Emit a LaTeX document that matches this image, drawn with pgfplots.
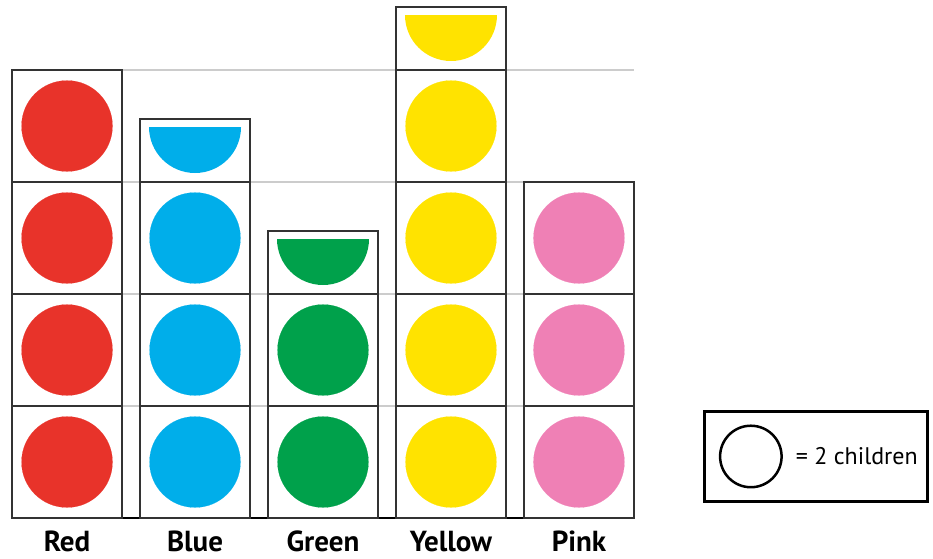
\documentclass[border=0pt]{standalone}
\usepackage{pgfplots}
\pgfplotsset{compat=1.18}
\usepackage{fontspec}
\setmainfont{PT Sans}

\definecolor{redc}{HTML}{E8332A}
\definecolor{bluec}{HTML}{00AEEA}
\definecolor{greenc}{HTML}{00A14B}
\definecolor{yellowc}{HTML}{FFE300}
\definecolor{pinkc}{HTML}{EF80B5}
\definecolor{boxc}{HTML}{333333}
\definecolor{gridc}{HTML}{CCCCCC}

% one picture cell: 110pt wide, 112pt (full) or 63pt (half) high
\pgfdeclareplotmark{cellfull}{%
  \pgfpathrectangle{\pgfqpoint{-55pt}{-56pt}}{\pgfqpoint{110pt}{112pt}}%
  \pgfusepathqstroke}
\pgfdeclareplotmark{cellhalf}{%
  \pgfpathrectangle{\pgfqpoint{-55pt}{0pt}}{\pgfqpoint{110pt}{63pt}}%
  \pgfusepathqstroke}
% half symbol (= 1 child), anchored at the bottom of its half cell
\pgfdeclareplotmark{halfc}{%
  \pgfpathmoveto{\pgfqpoint{-46pt}{55pt}}%
  \pgfpatharc{180}{360}{46pt}%
  \pgfpathclose
  \pgfusepathqfill}

\begin{document}
\begin{tikzpicture}
\begin{axis}[
    scale only axis,
    width=622pt, height=511pt,
    xmin=-0.43, xmax=4.43,
    ymin=0, ymax=4.5625,
    clip=false,
    axis lines*=left,
    y axis line style={draw=none},
    x axis line style={draw=black, line width=2pt, -},
    xtick={0,1,2,3,4},
    xticklabels={Red,Blue,Green,Yellow,Pink},
    xticklabel style={font=\bfseries\fontsize{29}{33}\selectfont, anchor=base, yshift=-33pt},
    ytick={1,2,3,4},
    yticklabels={},
    major tick length=0pt,
    ymajorgrids,
    grid style={draw=gridc, line width=2pt},
    legend style={
        at={(axis description cs:1.2926,0.1204)}, anchor=center,
        draw=black, line width=3pt,
        inner sep=0pt,
        nodes={inner sep=0pt},
        font=\fontsize{24}{28}\selectfont,
    },
]
% cell outlines
\addplot[forget plot, only marks, mark=cellfull, mark options={draw=boxc, line width=2pt}]
  coordinates {(0,0.5)(0,1.5)(0,2.5)(0,3.5)
               (1,0.5)(1,1.5)(1,2.5)
               (2,0.5)(2,1.5)
               (3,0.5)(3,1.5)(3,2.5)(3,3.5)
               (4,0.5)(4,1.5)(4,2.5)};
\addplot[forget plot, only marks, mark=cellhalf, mark options={draw=boxc, line width=2pt}]
  coordinates {(1,3)(2,2)(3,4)};
% whole symbols
\addplot[forget plot, only marks, mark=*, mark size=45.5pt, color=redc, mark options={line width=0.1pt}]
  coordinates {(0,0.5)(0,1.5)(0,2.5)(0,3.5)};
\addplot[forget plot, only marks, mark=*, mark size=45.5pt, color=bluec, mark options={line width=0.1pt}]
  coordinates {(1,0.5)(1,1.5)(1,2.5)};
\addplot[forget plot, only marks, mark=*, mark size=45.5pt, color=greenc, mark options={line width=0.1pt}]
  coordinates {(2,0.5)(2,1.5)};
\addplot[forget plot, only marks, mark=*, mark size=45.5pt, color=yellowc, mark options={line width=0.1pt}]
  coordinates {(3,0.5)(3,1.5)(3,2.5)(3,3.5)};
\addplot[forget plot, only marks, mark=*, mark size=45.5pt, color=pinkc, mark options={line width=0.1pt}]
  coordinates {(4,0.5)(4,1.5)(4,2.5)};
% half symbols
\addplot[forget plot, only marks, mark=halfc, color=bluec] coordinates {(1,3)};
\addplot[forget plot, only marks, mark=halfc, color=greenc] coordinates {(2,2)};
\addplot[forget plot, only marks, mark=halfc, color=yellowc] coordinates {(3,4)};
% key
\addlegendimage{legend image code/.code={
    \path[draw=none, fill=none] (0pt,-45pt) rectangle (91.5pt,45pt);
    \draw[line width=2.5pt, black, fill=none] (46.5pt,0pt) circle (30.75pt);}}
\addlegendentry{= 2 children\hspace*{10pt}}
\path (rel axis cs:0,0) ++(-12pt,-40pt) rectangle ++(933pt,558pt);
\end{axis}
\end{tikzpicture}
\end{document}
